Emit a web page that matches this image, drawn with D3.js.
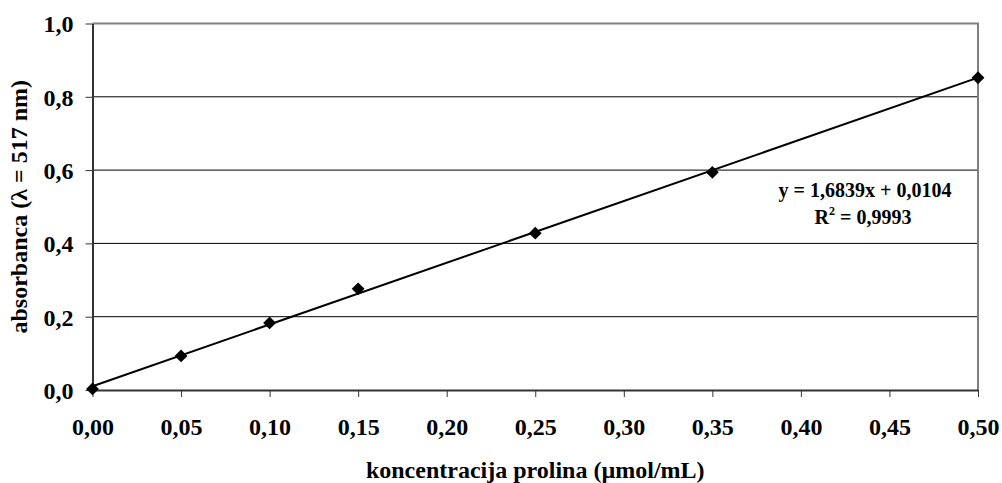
<!DOCTYPE html>
<html><head><meta charset="utf-8">
<script src="https://d3js.org/d3.v7.min.js"></script>
<style>body{margin:0;background:#fff}svg{display:block}text{font-family:"Liberation Serif","Times New Roman",serif;font-weight:bold}</style>
</head><body><svg id="c" width="1002" height="483"></svg>
<script>
const xValues = [0, 0.05, 0.10, 0.15, 0.25, 0.35, 0.50];
const yValues = [0.003, 0.093, 0.183, 0.276, 0.428, 0.594, 0.852];
const xTicks = [0,0.05,0.10,0.15,0.20,0.25,0.30,0.35,0.40,0.45,0.50];
const yTicks = [0,0.2,0.4,0.6,0.8,1.0];
const slope = 1.6839, intercept = 0.0104;
const eqLabel = "y = 1,6839x + 0,0104";
const r2Label = "= 0,9993";
const xTitle = "koncentracija prolina (µmol/mL)";

const svg = d3.select("#c");
const L=92.5, R=978, T=23.5, B=390;
const x = d3.scaleLinear().domain([0,0.5]).range([L,R]);
const y = d3.scaleLinear().domain([0,1]).range([B,T]);
const fmt = (d,n)=>d.toFixed(n).replace(".",",");

// gridlines
svg.append("g").selectAll("line").data(yTicks.slice(1,-1)).join("line")
  .attr("x1",L).attr("x2",R).attr("y1",d=>y(d)).attr("y2",d=>y(d))
  .attr("stroke","#000").attr("stroke-width",1);
// top/right border grey
svg.append("path").attr("d",`M${L},${T}H${R}V${B}`).attr("fill","none").attr("stroke","#808080").attr("stroke-width",2);

const ya = svg.append("g").attr("transform",`translate(${L},0)`)
  .call(d3.axisLeft(y).tickValues(yTicks).tickSize(7).tickSizeOuter(0).tickFormat(d=>fmt(d,1)));
ya.select(".domain").attr("stroke","#333").attr("stroke-width",2);
ya.selectAll("text").attr("font-size",24).attr("fill","#000").attr("x",-19).attr("dy","0.35em");
ya.selectAll(".tick line").attr("stroke","#333");

const xa = svg.append("g").attr("transform",`translate(0,${B})`)
  .call(d3.axisBottom(x).tickValues(xTicks).tickSize(7).tickSizeOuter(0).tickFormat(d=>fmt(d,2)));
xa.select(".domain").attr("stroke","#333").attr("stroke-width",2);
xa.selectAll("text").attr("font-size",24).attr("fill","#000").attr("y",45).attr("dy",0);
xa.selectAll(".tick line").attr("stroke","#333");

// trendline
const line = d3.line().x(d=>x(d)).y(d=>y(slope*d+intercept));
svg.append("path").datum([0,0.5]).attr("d",line).attr("fill","none").attr("stroke","#000").attr("stroke-width",2);

// markers
svg.append("g").selectAll("path").data(xValues.map((v,i)=>[v,yValues[i]])).join("path")
  .attr("d",d3.symbol().type(d3.symbolDiamond2).size(105))
  .attr("transform",d=>`translate(${x(d[0])},${y(d[1])})`)
  .attr("fill","#000");

// equation
svg.append("text").attr("x",865).attr("y",197).attr("text-anchor","middle").attr("font-size",20).text(eqLabel);
const r2 = svg.append("text").attr("x",863).attr("y",224).attr("text-anchor","middle").attr("font-size",20);
r2.append("tspan").text("R");
r2.append("tspan").attr("font-size",12).attr("dy",-9).text("2");
r2.append("tspan").attr("dy",9).text(" "+r2Label);

// titles
svg.append("text").attr("x",(L+R)/2).attr("y",478).attr("text-anchor","middle").attr("font-size",24).text(xTitle);
const yt = svg.append("text").attr("transform",`translate(27,${(T+B)/2}) rotate(-90)`).attr("text-anchor","middle").attr("font-size",24);
yt.append("tspan").text("absorbanca (");
yt.append("tspan").text("λ");
yt.append("tspan").text(" = 517 nm)");
</script></body></html>
